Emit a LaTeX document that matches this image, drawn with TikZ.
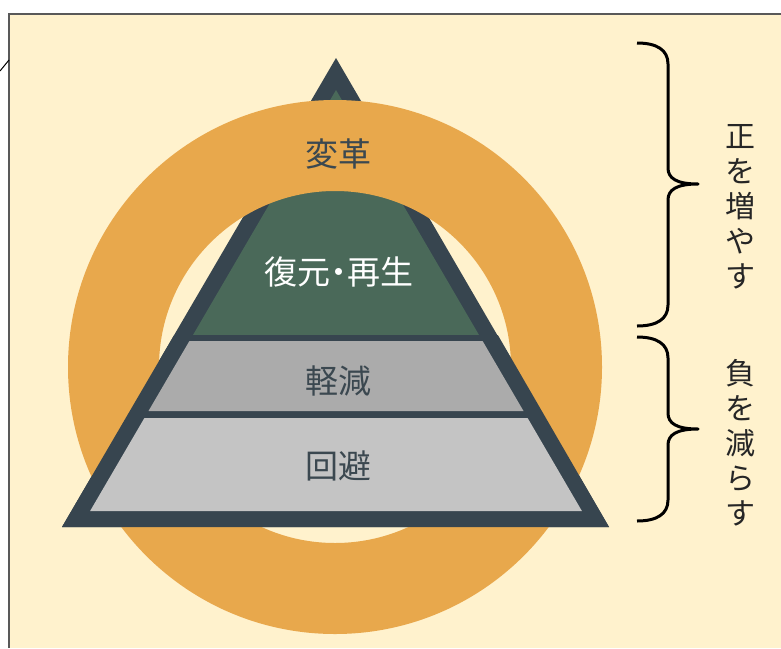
\documentclass[tikz,border=0pt]{standalone}
\usepackage{fontspec}
\newfontfamily\jp{Noto Sans CJK JP}
\definecolor{cream}{HTML}{FFF2CD}
\definecolor{ringorange}{HTML}{E8A84C}
\definecolor{slate}{HTML}{37454F}
\definecolor{leafgreen}{HTML}{4A6959}
\definecolor{greyA}{HTML}{ABABAB}
\definecolor{greyB}{HTML}{C4C4C4}
\definecolor{labeldark}{HTML}{3B4850}
\definecolor{sidetext}{HTML}{262626}
\begin{document}
\begin{tikzpicture}[x=1pt,y=-1pt,
  layerlabel/.style={inner sep=0pt, font=\jp\fontsize{33}{36}\selectfont, text=labeldark},
  sidelabel/.style={inner sep=0pt, align=center, font=\jp\fontsize{30}{35}\selectfont, text=sidetext},
  bracestroke/.style={line width=3pt, black, line join=round}]
\useasboundingbox (0,0) rectangle (781,648);
\fill[white] (0,0) rectangle (781,648);
\fill[cream] (9,14) rectangle (781,648);
\draw[line width=1.2pt, black!65] (9,648) -- (9,14) -- (781,14);
\draw[line width=1pt, black] (0,71) -- (9,60);
% full triangle (below the ring)
\fill[slate] (336,58) -- (609,527) -- (62,527) -- cycle;
\fill[leafgreen] (336,90) -- (479,335) -- (193,335) -- cycle;
% ring
\fill[ringorange, even odd rule] (335,367) circle[radius=267] (335,367) circle[radius=176];
% lower part of the pyramid (over the ring)
\fill[slate] (174.2,335) -- (497.8,335) -- (609,527) -- (62,527) -- cycle;
\fill[greyA] (189.4,341) -- (482.6,341) -- (523.5,411) -- (148.5,411) -- cycle;
\fill[greyB] (144.4,418) -- (527.6,418) -- (581.9,511) -- (90.1,511) -- cycle;
% labels
\node[layerlabel] (henkaku) at (338,154) {変革};
\node[layerlabel, text=white] (fukugen) at (339,272) {復元\kern-8pt・\kern-8pt再生};
\node[layerlabel] (keigen) at (338,381) {軽減};
\node[layerlabel] (kaihi) at (338,466) {回避};
% braces
\draw[bracestroke] (637,43) .. controls (657,43) and (668,50) .. (668,64) -- (668,168)
  .. controls (668,178) and (676,184) .. (698,184)
  .. controls (676,184) and (668,190) .. (668,200) -- (668,305)
  .. controls (668,319) and (657,326) .. (637,326);
\draw[bracestroke] (637,337) .. controls (657,337) and (668,344) .. (668,358) -- (668,413)
  .. controls (668,423) and (676,429) .. (698,429)
  .. controls (676,429) and (668,435) .. (668,445) -- (668,500)
  .. controls (668,514) and (657,521) .. (637,521);
\node[sidelabel] (fuyasu) at (740,207) {正\\を\\増\\や\\す};
\node[sidelabel] (herasu) at (740,443) {負\\を\\減\\ら\\す};
\end{tikzpicture}
\end{document}
